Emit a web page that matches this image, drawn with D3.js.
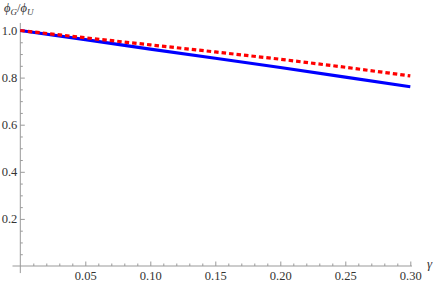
<!DOCTYPE html>
<html>
<head>
<meta charset="utf-8">
<script src="https://cdn.jsdelivr.net/npm/d3@7"></script>
</head>
<body style="margin:0; background:#fff">
<script>
// gamma values
var gamma = [0, 0.05, 0.10, 0.15, 0.20, 0.25, 0.30];
// blue solid curve
var blueVals = [1.0, 0.961, 0.921, 0.882, 0.843, 0.802, 0.761];
// red dashed curve
var redVals = [1.0, 0.969, 0.939, 0.909, 0.878, 0.844, 0.807];
var xTicks = [0.05, 0.10, 0.15, 0.20, 0.25, 0.30];
var yTicks = [0.2, 0.4, 0.6, 0.8, 1.0];

var width = 436,
    height = 285,
    serif = "'Liberation Serif'";

var svg = d3.select("body")
    .append("svg")
    .attr("width", width)
    .attr("height", height)
    .style("display", "block");

var x = d3.scaleLinear().domain([0, 0.30]).range([20.3, 410.3]);
var y = d3.scaleLinear().domain([0, 1]).range([266, 30.5]);

//minor ticks
var xMinor = d3.range(1, 31).map(function(i){ return i / 100; })
    .filter(function(v){ return Math.round(v * 100) % 5 !== 0; });
var yMinor = d3.range(1, 21).map(function(i){ return i / 20; })
    .filter(function(v){ return Math.round(v * 20) % 4 !== 0; });

function styleAxis(g){
    g.attr("font-family", null).attr("font-size", null);
    g.select(".domain").remove();
    g.selectAll("line").attr("stroke", "#999");
    g.selectAll("text")
        .attr("font-family", "Liberation Serif")
        .style("font-family", serif)
        .style("font-size", "12.5px")
        .attr("fill", "#333");
}

svg.append("g")
    .attr("transform", "translate(0," + y(0) + ")")
    .call(d3.axisBottom(x).tickValues(xMinor).tickSize(-2.5).tickFormat(""))
    .call(styleAxis);

svg.append("g")
    .attr("transform", "translate(0," + y(0) + ")")
    .call(d3.axisBottom(x).tickValues(xTicks).tickSize(-4.5).tickPadding(5)
        .tickFormat(d3.format(".2f")))
    .call(styleAxis);

svg.append("g")
    .attr("transform", "translate(" + x(0) + ",0)")
    .call(d3.axisLeft(y).tickValues(yMinor).tickSize(-2.5).tickFormat(""))
    .call(styleAxis);

svg.append("g")
    .attr("transform", "translate(" + x(0) + ",0)")
    .call(d3.axisLeft(y).tickValues(yTicks).tickSize(-4.5).tickPadding(3)
        .tickFormat(d3.format(".1f")))
    .call(styleAxis);

//axis lines (extend a bit past the origin like Mathematica)
svg.append("line")
    .attr("x1", x(-0.006)).attr("x2", x(0.3013))
    .attr("y1", y(0)).attr("y2", y(0))
    .attr("stroke", "#999");
svg.append("line")
    .attr("x1", x(0)).attr("x2", x(0))
    .attr("y1", y(-0.03)).attr("y2", y(1.032))
    .attr("stroke", "#999");

var line = d3.line()
    .x(function(d){ return x(d[0]); })
    .y(function(d){ return y(d[1]); });

svg.append("path")
    .datum(d3.zip(gamma, blueVals))
    .attr("d", line)
    .attr("fill", "none")
    .attr("stroke", "#0000ff")
    .attr("stroke-width", 3.2);

svg.append("path")
    .datum(d3.zip(gamma, redVals))
    .attr("d", line)
    .attr("fill", "none")
    .attr("stroke", "#ff0000")
    .attr("stroke-width", 3.2)
    .attr("stroke-dasharray", "4.5,3");

//axis labels
var yl = svg.append("text")
    .attr("x", 4)
    .attr("y", 12)
    .attr("fill", "#333")
    .style("font-family", serif)
    .style("font-size", "12.5px")
    .style("font-style", "italic");
yl.append("tspan").text("\u03d5");
yl.append("tspan").style("font-size", "9px").attr("dy", 3).text("G");
yl.append("tspan").attr("dy", -3).style("font-style", "normal").text("/");
yl.append("tspan").text("\u03d5");
yl.append("tspan").style("font-size", "9px").attr("dy", 3).text("U");

svg.append("text")
    .attr("x", 427)
    .attr("y", 268)
    .attr("fill", "#333")
    .style("font-family", serif)
    .style("font-size", "13px")
    .style("font-style", "italic")
    .text("\u03b3");
</script>
</body>
</html>
